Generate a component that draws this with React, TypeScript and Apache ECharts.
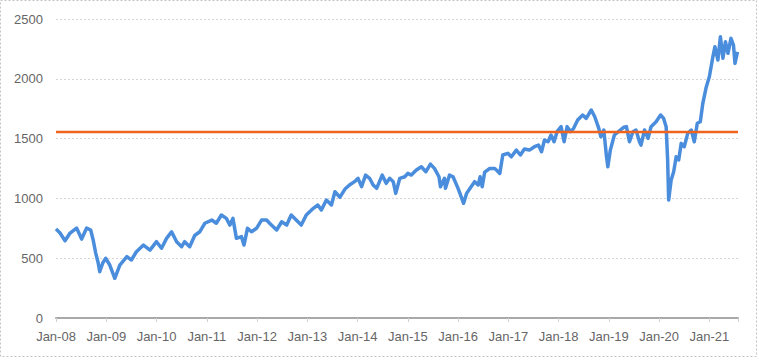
import React, { useEffect, useRef } from "react";
import * as echarts from "echarts";

// Time (decimal years) and index values
const xYears: number[] = [
  2008.00, 2008.08, 2008.18, 2008.28, 2008.41, 2008.51, 2008.61, 2008.69, 2008.74, 2008.79,
  2008.84, 2008.87, 2008.93, 2008.99, 2009.07, 2009.17, 2009.27, 2009.41, 2009.50, 2009.60,
  2009.74, 2009.87, 2010.00, 2010.10, 2010.20, 2010.30, 2010.40, 2010.50, 2010.56, 2010.66,
  2010.76, 2010.86, 2010.96, 2011.10, 2011.19, 2011.29, 2011.39, 2011.46, 2011.52, 2011.59,
  2011.69, 2011.74, 2011.81, 2011.89, 2011.99, 2012.09, 2012.19, 2012.25, 2012.39, 2012.49,
  2012.59, 2012.68, 2012.78, 2012.88, 2012.98, 2013.12, 2013.21, 2013.28, 2013.38, 2013.48,
  2013.55, 2013.65, 2013.75, 2013.84, 2013.94, 2014.01, 2014.08, 2014.16, 2014.24, 2014.31,
  2014.38, 2014.49, 2014.57, 2014.64, 2014.71, 2014.76, 2014.84, 2014.94, 2015.00, 2015.07,
  2015.17, 2015.27, 2015.36, 2015.45, 2015.53, 2015.62, 2015.65, 2015.73, 2015.75, 2015.83,
  2015.90, 2016.00, 2016.05, 2016.11, 2016.17, 2016.26, 2016.33, 2016.40, 2016.44, 2016.48,
  2016.53, 2016.63, 2016.73, 2016.83, 2016.89, 2016.99, 2017.06, 2017.16, 2017.24, 2017.32,
  2017.42, 2017.52, 2017.60, 2017.66, 2017.72, 2017.79, 2017.85, 2017.91, 2017.97, 2018.05,
  2018.11, 2018.17, 2018.24, 2018.30, 2018.38, 2018.48, 2018.55, 2018.65, 2018.72, 2018.80,
  2018.84, 2018.90, 2018.95, 2018.98, 2019.03, 2019.11, 2019.21, 2019.30, 2019.35, 2019.41,
  2019.48, 2019.54, 2019.61, 2019.64, 2019.71, 2019.78, 2019.84, 2019.94, 2020.03, 2020.09,
  2020.14, 2020.17, 2020.19, 2020.24, 2020.29, 2020.34, 2020.39, 2020.44, 2020.50, 2020.57,
  2020.64, 2020.70, 2020.76, 2020.82, 2020.87, 2020.94, 2021.00, 2021.07, 2021.11, 2021.17,
  2021.22, 2021.27, 2021.32, 2021.37, 2021.43, 2021.48, 2021.51, 2021.56,
];

const indexValues: number[] = [
  745, 710, 646, 710, 752, 660, 752, 736, 652, 543,
  460, 387, 460, 499, 443, 332, 443, 513, 485, 554,
  610, 568, 638, 583, 666, 721, 638, 596, 638, 596,
  690, 721, 792, 819, 792, 861, 833, 777, 833, 666,
  680, 610, 750, 721, 750, 819, 819, 792, 736, 805,
  777, 861, 819, 777, 861, 917, 945, 903, 986, 945,
  1056, 1010, 1078, 1112, 1140, 1168, 1098, 1195, 1168, 1112,
  1084, 1195, 1126, 1168, 1140, 1042, 1168, 1181, 1209, 1195,
  1237, 1265, 1223, 1287, 1251, 1181, 1098, 1168, 1084, 1195,
  1181, 1084, 1028, 959, 1042, 1098, 1140, 1112, 1181, 1098,
  1220, 1250, 1251, 1209, 1363, 1377, 1348, 1404, 1363, 1413,
  1404, 1432, 1446, 1390, 1488, 1474, 1530, 1474, 1558, 1600,
  1474, 1600, 1558, 1586, 1655, 1697, 1669, 1739, 1683, 1586,
  1516, 1572, 1363, 1265, 1404, 1530, 1565, 1595, 1600, 1474,
  1558, 1572, 1474, 1446, 1572, 1502, 1600, 1641, 1697, 1669,
  1600, 1321, 986, 1154, 1223, 1348, 1321, 1460, 1432, 1544,
  1572, 1474, 1628, 1641, 1795, 1934, 2017, 2184, 2268, 2157,
  2352, 2171, 2310, 2213, 2338, 2282, 2129, 2226,
];

const averageLevel = 1555;
const xStart = 2008;
const xEnd = 2021.57;
const yTicks: number[] = [0, 500, 1000, 1500, 2000, 2500];

export default function App() {
  const ref = useRef<HTMLDivElement>(null);

  useEffect(() => {
    if (!ref.current) return;
    const chart = echarts.init(ref.current, undefined, { renderer: "svg" });
    const lineData = xYears.map((x, i) => [x, indexValues[i]]);
    const avgData = [
      [xStart, averageLevel],
      [xEnd, averageLevel],
    ];
    const font = "'Liberation Sans', Arial, sans-serif";
    chart.setOption({
      animation: false,
      backgroundColor: "#ffffff",
      grid: { left: 56, right: 21, top: 19, bottom: 42 },
      graphic: [
        {
          type: "rect",
          shape: { x: 0.5, y: 0.5, width: 756, height: 356 },
          style: { fill: "none", stroke: "#c4c4c4", lineWidth: 1, lineDash: [2, 2] },
          silent: true,
          z: 0,
        },
      ],
      xAxis: {
        type: "value",
        min: xStart,
        max: xEnd,
        interval: 1,
        axisLine: { show: true, lineStyle: { color: "#a9a9a9", width: 2 } },
        axisTick: { show: true, length: 4, lineStyle: { color: "#d0d0d0" } },
        splitLine: { show: false },
        axisLabel: {
          margin: 12,
          fontSize: 13,
          fontFamily: font,
          color: "#666666",
          formatter: (v: number) => {
            const r = Math.round(v);
            if (Math.abs(v - r) > 1e-6) return "";
            return "Jan-" + String(r % 100).padStart(2, "0");
          },
        },
      },
      yAxis: {
        type: "value",
        min: yTicks[0],
        max: yTicks[yTicks.length - 1],
        interval: 500,
        axisLine: { show: false },
        axisTick: { show: false },
        splitLine: { show: true, lineStyle: { color: "#d6d6d6", type: [2, 2], width: 1 } },
        axisLabel: {
          margin: 13,
          fontSize: 13,
          fontFamily: font,
          color: "#666666",
          formatter: (v: number) => String(v),
        },
      },
      series: [
        {
          type: "line",
          data: lineData,
          symbol: "none",
          lineStyle: { color: "#4a8ddc", width: 3.5, join: "round" },
          z: 2,
        },
        {
          type: "line",
          data: avgData,
          symbol: "none",
          lineStyle: { color: "#f0641e", width: 2.5 },
          z: 3,
        },
      ],
    });
    return () => chart.dispose();
  }, []);

  return (
    <div
      ref={ref}
      style={{ position: "absolute", left: 0, top: 0, width: 759, height: 360 }}
    />
  );
}
